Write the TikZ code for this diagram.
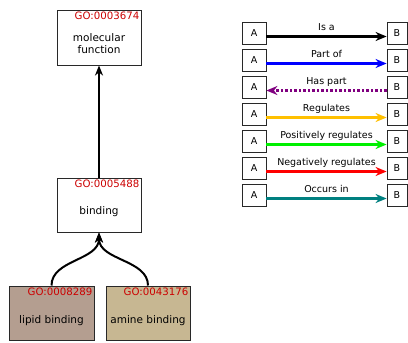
\documentclass[tikz,border=0pt]{standalone}
\usepackage{fontspec}
\setmainfont{DejaVu Sans}
\usetikzlibrary{arrows.meta}
\definecolor{goid}{RGB}{204,0,0}
\definecolor{lipidfill}{RGB}{180,158,144}
\definecolor{aminefill}{RGB}{199,183,146}
\definecolor{boxline}{RGB}{40,40,40}
\definecolor{regorange}{RGB}{255,192,0}
\definecolor{posgreen}{RGB}{0,240,0}
\definecolor{negred}{RGB}{255,0,0}
\definecolor{occteal}{RGB}{0,128,128}
\definecolor{haspurple}{RGB}{128,0,128}
\begin{document}
\begin{tikzpicture}[x=1pt,y=-1pt,
  gobox/.style={draw=boxline,line width=1pt,rectangle,minimum width=84pt,minimum height=54pt,inner sep=0pt},
  goid/.style={text=goid,font=\fontsize{10.2}{12}\selectfont,inner sep=0pt,anchor=north east},
  golabel/.style={font=\fontsize{10.5}{11.5}\selectfont,inner sep=0pt,align=center},
  legbox/.style={draw=boxline,line width=0.8pt,rectangle,inner sep=0pt,font=\fontsize{9.5}{11}\selectfont},
  abox/.style={legbox,minimum width=24pt,minimum height=22pt},
  bbox/.style={legbox,minimum width=20pt,minimum height=22pt},
  relarrow/.style={line width=2.2pt,-{Stealth[length=11pt,width=9pt,inset=3.5pt]}},
  rellab/.style={font=\fontsize{9.5}{11}\selectfont,inner sep=0pt,anchor=base,yshift=6pt},
  treeedge/.style={line width=2pt,black,-{Stealth[length=10pt,width=8pt,inset=3pt]}}
]
\useasboundingbox (0,0) rectangle (408,343);
\fill[white] (0,0) rectangle (408,343);

% tree boxes
\node[gobox,fill=white,minimum height=55pt] (mf) at (99,37.5) {};
\node[gobox,fill=white] (bd) at (99,205) {};
\node[gobox,fill=lipidfill,minimum width=85pt] (lp) at (51.5,313) {};
\node[gobox,fill=aminefill] (am) at (148,313) {};

\node[goid] (mfid) at ([xshift=-2pt,yshift=-2.5pt]mf.north east) {GO:0003674};
\node[goid] (bdid) at ([xshift=-2pt,yshift=-2.5pt]bd.north east) {GO:0005488};
\node[goid] (lpid) at ([xshift=-2pt,yshift=-2.5pt]lp.north east) {GO:0008289};
\node[goid] (amid) at ([xshift=-2pt,yshift=-2.5pt]am.north east) {GO:0043176};

\node[golabel] (mft) at ([yshift=-6pt]mf.center) {molecular\\function};
\node[golabel] (bdt) at ([yshift=-6.5pt]bd.center) {binding};
\node[golabel] (lpt) at ([yshift=-7.5pt]lp.center) {lipid binding};
\node[golabel] (amt) at ([yshift=-7.5pt]am.center) {amine binding};

\draw[treeedge] (bd.north) -- (mf.south);
\draw[treeedge] (lp.north) .. controls ([yshift=26pt]lp.north) and ([yshift=-28pt]bd.south) .. (bd.south);
\draw[treeedge] (am.north) .. controls ([yshift=26pt]am.north) and ([yshift=-28pt]bd.south) .. (bd.south);

% legend
\foreach \i/\lab/\col in {1/Is a/black,2/Part of/blue,4/Regulates/regorange,5/Positively regulates/posgreen,6/Negatively regulates/negred,7/Occurs in/occteal}{
  \node[abox] (A\i) at (254,{33+27*(\i-1)}) {A};
  \node[bbox] (B\i) at (397,{33+27*(\i-1)}) {B};
  \draw[relarrow,draw=\col,fill=\col] ([yshift=-3.5pt]A\i.east) -- node[rellab] (L\i) {\lab} ([yshift=-3.5pt]B\i.west);
}
\node[abox] (A3) at (254,87) {A};
\node[bbox] (B3) at (397,87) {B};
\draw[line width=2.2pt,haspurple,dash pattern=on 2.5pt off 2pt,-{Stealth[length=11pt,width=9pt,inset=3.5pt,sep=0pt]}] ([yshift=-3.5pt]B3.west) -- node[rellab,text=black] (L3) {Has part} ([yshift=-3.5pt]A3.east);
\end{tikzpicture}
\end{document}
